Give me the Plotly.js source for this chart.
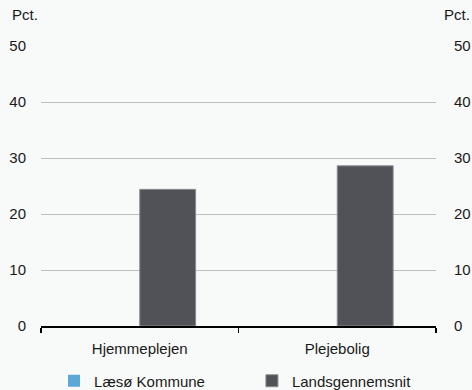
<!DOCTYPE html>
<html><head><meta charset="utf-8">
<script src="https://cdn.plot.ly/plotly-3.0.1.min.js"></script>
<style>html,body{margin:0;padding:0;background:#f8f9f9;overflow:hidden;width:472px;height:390px;}#c{width:472px;height:400px;}</style>
</head><body><div id="c"></div>
<script>
const categories = ["Hjemmeplejen", "Plejebolig"];
const seriesNames = ["Læsø Kommune", "Landsgennemsnit"];
const laesoValues = [null, null];
const landsValues = [24.4, 28.6];
const yTicks = [0, 10, 20, 30, 40, 50];
const unitLabel = "Pct.";

const font = {family: "Liberation Sans, Arial, sans-serif", size: 15, color: "#1a1a1a"};
const data = [
  {type: "bar", name: seriesNames[0], x: categories, y: laesoValues, legend: "legend",
   marker: {color: "#5ba7d6"}},
  {type: "bar", name: seriesNames[1], x: categories, y: landsValues, legend: "legend2",
   marker: {color: "#505257", line: {color: "#8a8c90", width: 1}}},
  {type: "scatter", mode: "markers", x: categories, y: landsValues, yaxis: "y2",
   marker: {opacity: 0}, showlegend: false, hoverinfo: "skip"}
];
const yDomain = [0.209, 1];
const legendBase = {orientation: "h", xanchor: "left", y: 0.0537, yanchor: "middle",
  itemwidth: 30, font: font, bgcolor: "rgba(0,0,0,0)"};
const layout = {
  width: 472, height: 400,
  margin: {l: 41, r: 36, t: 46, b: 0},
  paper_bgcolor: "#f8f9f9", plot_bgcolor: "#f8f9f9",
  font: font,
  barmode: "group", bargap: 0.434, bargroupgap: 0,
  showlegend: true,
  legend: Object.assign({}, legendBase, {x: 0.033}),
  legend2: Object.assign({}, legendBase, {x: 0.534}),
  xaxis: {showline: true, linecolor: "#000000", linewidth: 1.5, ticks: "outside",
          tickson: "boundaries", ticklen: 5, tickcolor: "#000000", tickwidth: 1.5,
          ticklabelstandoff: 8, anchor: "y",
          showgrid: false, zeroline: false, fixedrange: true},
  yaxis: {range: [0, 50], tickvals: yTicks, domain: yDomain, showgrid: true, gridcolor: "#bdbebf",
          gridwidth: 1, zeroline: false, showline: false, ticks: "",
          ticklabelstandoff: 14, fixedrange: true},
  yaxis2: {range: [0, 50], tickvals: yTicks, domain: yDomain, overlaying: "y", side: "right",
           showgrid: false, zeroline: false, showline: false, ticks: "",
           ticklabelstandoff: 17, fixedrange: true, anchor: "x"},
  annotations: [
    {text: unitLabel, xref: "paper", yref: "paper", x: -0.078, y: 1.0593, xanchor: "left",
     yanchor: "bottom", showarrow: false, font: font},
    {text: unitLabel, xref: "paper", yref: "paper", x: 1.092, y: 1.0593, xanchor: "right",
     yanchor: "bottom", showarrow: false, font: font}
  ]
};
Plotly.newPlot("c", data, layout, {displayModeBar: false, staticPlot: true});
</script></body></html>
